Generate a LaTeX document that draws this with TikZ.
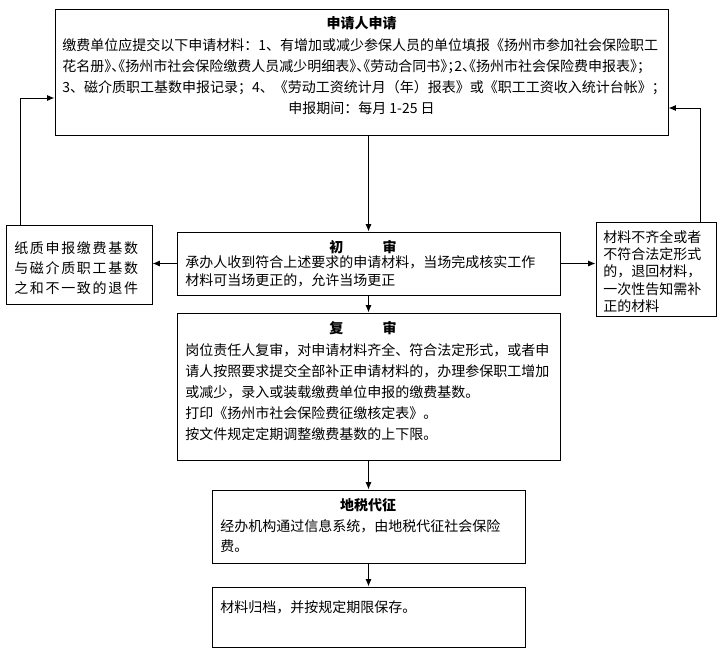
\documentclass[tikz,border=0pt]{standalone}
\usepackage{fontspec}
\setmainfont{Noto Sans CJK SC}
\newfontfamily\narrowpunct{Noto Sans CJK SC}[RawFeature=+halt]
\newfontfamily\widecjk{Noto Sans CJK SC}[LetterSpace=12]
\usetikzlibrary{arrows.meta}

\begin{document}
\begin{tikzpicture}[x=0.75pt,y=-0.75pt,
  box_node/.style 2 args={draw,line width=0.75pt,minimum width=#1*0.75pt,minimum height=#2*0.75pt,inner sep=0pt},
  body_text/.style={inner sep=0pt,align=left,anchor=north west,font=\fontsize{10.5pt}{#1}\selectfont},
  body_text/.default=15.75pt,
  title_text/.style={inner sep=0pt,font=\fontsize{10.5pt}{12pt}\selectfont\bfseries},
  flow/.style={line width=0.75pt,-{Latex[length=5.5pt,width=4.5pt]}}]
  \useasboundingbox (0,0) rectangle (723,657);
  % boxes
  \node[box_node={613}{126}] (apply) at (361.5,72) {};
  \node[box_node={383}{63}] (first) at (368.5,263.5) {};
  \node[box_node={146}{79}] (back) at (79,264.5) {};
  \node[box_node={120}{94}] (fix) at (656,269) {};
  \node[box_node={383}{147}] (second) at (368.5,386.5) {};
  \node[box_node={313}{73}] (tax) at (368.5,526.5) {};
  \node[box_node={313}{60}] (archive) at (368.5,617) {};
  % texts
  \node[title_text] (apply_t) at (361.5,23) {申请人申请};
  \node[body_text] (apply_b) at (62,38) {缴费单位应提交以下申请材料：1、有增加或减少参保人员的单位填报《扬州市参加社会保险职工\\
    {\narrowpunct 花名册》、《扬州市社会保险缴费人员减少明细表》、《劳动合同书》；2、《扬州市社会保险费申报表》；}\\
    3、磁介质职工基数申报记录；4、《劳动工资统计月（年）报表》或《职工工资收入统计台帐》；};
  \node[body_text] (apply_d) at (361.5,108) [anchor=center] {申报期间：每月 1-25 日};
  \node[title_text] (first_t) at (363,247) {初\hspace{2.8em}审};
  \node[body_text=13.5pt] (first_b) at (185,255) {承办人收到符合上述要求的申请材料，当场完成核实工作\\材料可当场更正的，允许当场更正};
  \node[body_text=15pt] (back_b) at (14,241) {\widecjk 纸质申报缴费基数\\\widecjk 与磁介质职工基数\\\widecjk 之和不一致的退件};
  \node[body_text=13pt] (fix_b) at (603,230) {材料不齐全或者\\不符合法定形式\\的，退回材料，\\一次性告知需补\\正的材料};
  \node[title_text] (second_t) at (363,328) {复\hspace{2.8em}审};
  \node[body_text] (second_b) at (185,343) {岗位责任人复审，对申请材料齐全、符合法定形式，或者申\\请人按照要求提交全部补正申请材料的，办理参保职工增加\\或减少，录入或装载缴费单位申报的缴费基数。\\打印《扬州市社会保险费征缴核定表》。\\按文件规定定期调整缴费基数的上下限。};
  \node[title_text] (tax_t) at (368,505) {地税代征};
  \node[body_text=15pt] (tax_b) at (220,519) {经办机构通过信息系统，由地税代征社会保险\\费。};
  \node[body_text] (archive_b) at (220,600) {材料归档，并按规定期限保存。};
  % connectors
  \coordinate (back_up) at (20,98);
  \coordinate (fix_up) at (700,108);
  \draw[flow] (first.north |- apply.south) -- (first.north);
  \draw[flow] (first.south) -- (second.north);
  \draw[flow] (second.south) -- (tax.north);
  \draw[flow] (tax.south) -- (archive.north);
  \draw[flow] (first.west) -- (first.west -| back.east);
  \draw[flow] (first.east) -- (first.east -| fix.west);
  \draw[flow] (back.north -| back_up) -- (back_up) -- (apply.west |- back_up);
  \draw[flow] (fix.north -| fix_up) -- (fix_up) -- (apply.east |- fix_up);
\end{tikzpicture}
\end{document}
